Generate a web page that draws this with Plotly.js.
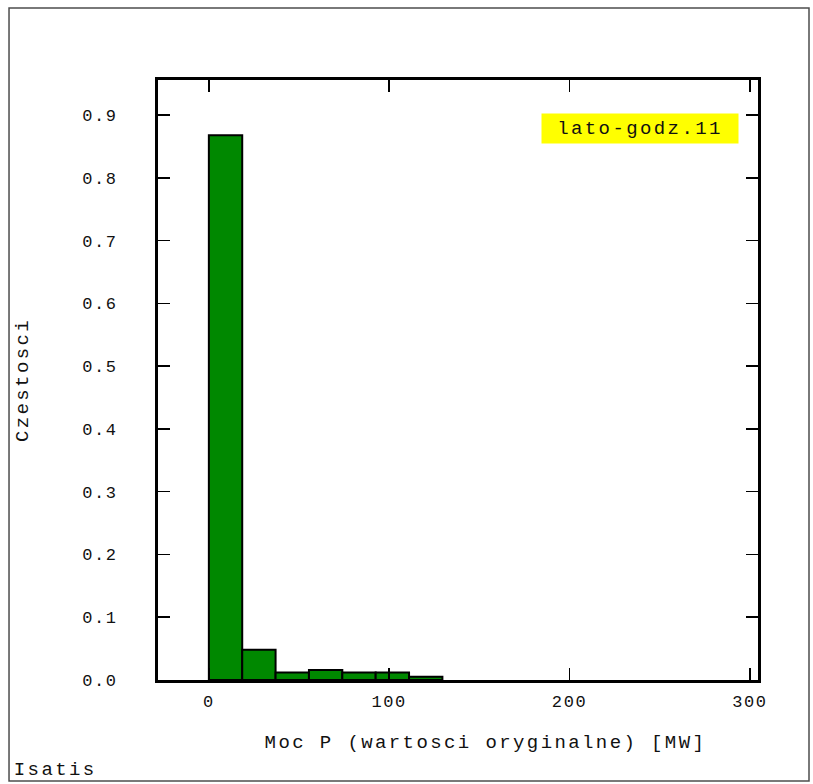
<!DOCTYPE html>
<html>
<head>
<meta charset="utf-8">
<script src="https://cdn.plot.ly/plotly-3.0.1.min.js"></script>
<style>
  html, body { margin: 0; padding: 0; background: #fff; }
  #chart { width: 813px; height: 784px; }
  #chart text { letter-spacing: 1.6px; }
  #chart .g-xtitle text, #chart .g-ytitle text, #chart .annotation text { letter-spacing: 2.4px; }
</style>
</head>
<body>
<div id="chart"></div>
<script>
// Histogram bin edges (MW) and relative frequencies
const binEdges = [0, 18.5, 37, 55.5, 74, 92.5, 111, 129.5];
const frequencies = [0.868, 0.048, 0.012, 0.016, 0.012, 0.012, 0.005];
const xTickValues = [0, 100, 200, 300];
const xTickLabels = ['0', '100', '200', '300'];
const yTickValues = [0.0, 0.1, 0.2, 0.3, 0.4, 0.5, 0.6, 0.7, 0.8, 0.9];
const yTickLabels = ['0.0', '0.1', '0.2', '0.3', '0.4', '0.5', '0.6', '0.7', '0.8', '0.9'];
const xTitle = 'Moc P (wartosci oryginalne) [MW]';
const yTitle = 'Czestosci';
const tagLabel = 'lato-godz.11';
const footerLabel = 'Isatis';

const centers = frequencies.map((_, i) => (binEdges[i] + binEdges[i + 1]) / 2);
const widths = frequencies.map((_, i) => binEdges[i + 1] - binEdges[i]);

const mono = 'Liberation Mono, Courier New, monospace';
const textColor = '#111111';

const trace = {
  type: 'bar',
  x: centers,
  y: frequencies,
  width: widths,
  marker: { color: '#008800', line: { color: '#000000', width: 2 } },
  hoverinfo: 'x+y'
};

const axisCommon = {
  showline: true,
  linecolor: '#000',
  linewidth: 3,
  mirror: 'ticks',
  ticks: 'inside',
  ticklen: 12,
  tickwidth: 1.5,
  tickcolor: '#000',
  showgrid: false,
  zeroline: false,
  tickfont: { family: mono, size: 17, color: textColor }
};

const layout = {
  width: 813,
  height: 784,
  margin: { l: 158, r: 55, t: 80, b: 104 },
  paper_bgcolor: '#fff',
  plot_bgcolor: '#fff',
  showlegend: false,
  bargap: 0,
  xaxis: Object.assign({}, axisCommon, {
    range: [-28.2, 304.5],
    tickmode: 'array',
    tickvals: xTickValues,
    ticktext: xTickLabels,
    ticklabelstandoff: 4
  }),
  yaxis: Object.assign({}, axisCommon, {
    range: [0, 0.956],
    tickmode: 'array',
    tickvals: yTickValues,
    ticktext: yTickLabels,
    ticklabelstandoff: 34,
    title: { text: yTitle, font: { family: mono, size: 19, color: textColor }, standoff: 54 }
  }),
  annotations: [
    {
      text: xTitle,
      xref: 'paper', yref: 'paper',
      x: 0.545, y: -0.105,
      xanchor: 'center', yanchor: 'middle',
      showarrow: false,
      font: { family: mono, size: 19, color: textColor }
    },
    {
      text: tagLabel,
      xref: 'paper', yref: 'paper',
      x: 0.803, y: 0.919,
      xanchor: 'center', yanchor: 'middle',
      showarrow: false,
      bgcolor: '#ffff00',
      width: 188, height: 21, borderpad: 4,
      font: { family: mono, size: 19, color: textColor }
    },
    {
      text: footerLabel,
      xref: 'paper', yref: 'paper',
      x: -0.232, y: -0.15,
      xanchor: 'left', yanchor: 'middle',
      showarrow: false,
      font: { family: mono, size: 19, color: textColor }
    }
  ],
  shapes: [
    {
      type: 'rect', xref: 'paper', yref: 'paper',
      x0: -0.2483, x1: 1.085, y0: -0.1683, y1: 1.12,
      line: { color: '#4d4d4d', width: 1.5 },
      fillcolor: 'rgba(0,0,0,0)'
    }
  ]
};

Plotly.newPlot('chart', [trace], layout, { displayModeBar: false, staticPlot: true });
</script>
</body>
</html>
